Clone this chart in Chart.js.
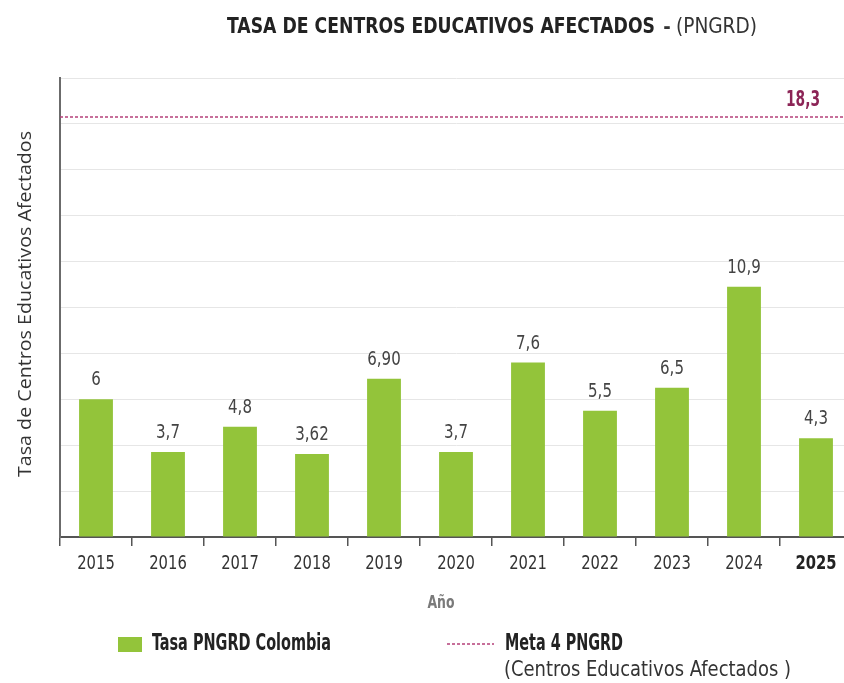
<!DOCTYPE html>
<html lang="es">
<head>
<meta charset="utf-8">
<title>Tasa de Centros Educativos Afectados</title>
<script src="https://cdn.jsdelivr.net/npm/chart.js@4.4.1/dist/chart.umd.min.js"></script>
<style>
  html, body { margin: 0; padding: 0; background: #fff; overflow: hidden; }
  #wrap { width: 852px; height: 683px; }
</style>
</head>
<body>
<div id="wrap"><canvas id="tasaChart" width="852" height="683"></canvas></div>
<script>
// Datos
const years = ['2015', '2016', '2017', '2018', '2019', '2020', '2021', '2022', '2023', '2024', '2025'];
const tasaValues = [6, 3.7, 4.8, 3.62, 6.9, 3.7, 7.6, 5.5, 6.5, 10.9, 4.3];
const tasaLabels = ['6', '3,7', '4,8', '3,62', '6,90', '3,7', '7,6', '5,5', '6,5', '10,9', '4,3'];
const metaValue = 18.3;
const metaLabel = '18,3';
const yMax = 20;
const yStep = 2;

const NARROW = "'Liberation Sans Narrow', 'DejaVu Sans Condensed', 'Arial Narrow', sans-serif";
const REGULAR = "'Open Sans', 'Liberation Sans', Arial, sans-serif";
const GREEN = '#93c43a';
const META = '#b5407a';

// texto comprimido en horizontal (la fuente original es muy estrecha)
function drawText(ctx, text, x, y, font, opts) {
    ctx.save();
    ctx.font = font;
    const w = ctx.measureText(text).width;
    const sx = opts.width ? opts.width / w : (opts.scale || 1);
    ctx.translate(x, y);
    ctx.scale(sx, 1);
    ctx.textAlign = opts.align || 'left';
    ctx.textBaseline = 'middle';
    ctx.fillStyle = opts.color || '#333';
    ctx.fillText(text, 0, 0);
    ctx.restore();
}

const annotations = {
    id: 'annotations',
    afterDatasetsDraw(chart) {
        const ctx = chart.ctx;
        const meta = chart.getDatasetMeta(0);
        meta.data.forEach((bar, i) => {
            drawText(ctx, tasaLabels[i], bar.x, bar.y - 19, '19px ' + NARROW,
                { align: 'center', scale: 0.88, color: '#444' });
        });

        // etiquetas eje x
        const xs = chart.scales.x;
        years.forEach((yr, i) => {
            const last = i === years.length - 1;
            drawText(ctx, yr, xs.getPixelForTick(i), 564, (last ? 'bold ' : '') + '20px ' + NARROW,
                { align: 'center', scale: 0.82, color: last ? '#222' : '#333' });
        });

        // etiqueta de la meta
        const yMeta = chart.scales.y.getPixelForValue(metaValue);
        drawText(ctx, metaLabel, 803, yMeta - 16, 'bold 21px ' + NARROW,
            { align: 'center', width: 34, color: '#8c2456' });
    },
    afterDraw(chart) {
        const ctx = chart.ctx;

        // titulo
        drawText(ctx, 'TASA DE CENTROS EDUCATIVOS AFECTADOS', 227, 27, 'bold 22px ' + NARROW,
            { width: 428, color: '#222' });
        drawText(ctx, '-', 667, 28, 'bold 20px ' + NARROW, { align: 'center', color: '#333' });
        drawText(ctx, '(PNGRD)', 676, 27, '22px ' + NARROW, { width: 81, color: '#333' });

        // titulo eje y
        ctx.save();
        ctx.translate(26, 304);
        ctx.rotate(-Math.PI / 2);
        drawText(ctx, 'Tasa de Centros Educativos Afectados', 0, 0, '19px ' + REGULAR,
            { align: 'center', width: 346, color: '#333' });
        ctx.restore();

        // titulo eje x
        drawText(ctx, 'Año', 441, 603, 'bold 18px ' + NARROW, { align: 'center', width: 27, color: '#7a7a7a' });

        // leyenda
        ctx.save();
        ctx.fillStyle = GREEN;
        ctx.fillRect(118, 637, 24, 15);
        ctx.strokeStyle = META;
        ctx.lineWidth = 1.5;
        ctx.setLineDash([3, 2]);
        ctx.beginPath();
        ctx.moveTo(447, 644);
        ctx.lineTo(494, 644);
        ctx.stroke();
        ctx.restore();

        drawText(ctx, 'Tasa PNGRD Colombia', 152, 644, 'bold 23px ' + NARROW, { width: 179, color: '#222' });
        drawText(ctx, 'Meta 4 PNGRD', 505, 644, 'bold 23px ' + NARROW, { width: 118, color: '#222' });
        drawText(ctx, '(Centros Educativos Afectados )', 504, 670, '22px ' + NARROW, { width: 287, color: '#333' });
    }
};

const ctx = document.getElementById('tasaChart').getContext('2d');

new Chart(ctx, {
    data: {
        labels: years,
        datasets: [
            {
                type: 'bar',
                label: 'Tasa PNGRD Colombia',
                data: tasaValues,
                backgroundColor: GREEN,
                borderWidth: 0,
                grouped: false,
                categoryPercentage: 1,
                barPercentage: 0.47,
                order: 2
            },
            {
                type: 'line',
                label: 'Meta 4 PNGRD',
                data: [{ x: 0, y: metaValue }, { x: 1, y: metaValue }],
                xAxisID: 'x2',
                borderColor: META,
                borderWidth: 1.5,
                borderDash: [3, 2],
                pointRadius: 0,
                fill: false,
                order: 1
            }
        ]
    },
    options: {
        responsive: false,
        animation: false,
        layout: {
            padding: { top: 78, left: 0, right: 0, bottom: 0 }
        },
        plugins: {
            legend: { display: false },
            title: { display: false },
            tooltip: { enabled: false }
        },
        scales: {
            x: {
                type: 'category',
                offset: true,
                grid: {
                    display: true,
                    drawOnChartArea: false,
                    drawTicks: true,
                    tickLength: 9,
                    color: '#555',
                    lineWidth: 1.5
                },
                border: { display: true, color: '#555', width: 2 },
                ticks: { display: false },
                afterFit: (scale) => { scale.height = 146; }
            },
            x2: {
                type: 'linear',
                display: false,
                min: 0,
                max: 1,
                offset: false
            },
            y: {
                min: 0,
                max: yMax,
                ticks: { display: false, stepSize: yStep },
                grid: {
                    color: '#e6e6e6',
                    lineWidth: 1,
                    drawTicks: false
                },
                border: { display: true, color: '#6b6b6b', width: 2 },
                afterFit: (scale) => { scale.width = 60; }
            }
        }
    },
    plugins: [annotations]
});
</script>
</body>
</html>
